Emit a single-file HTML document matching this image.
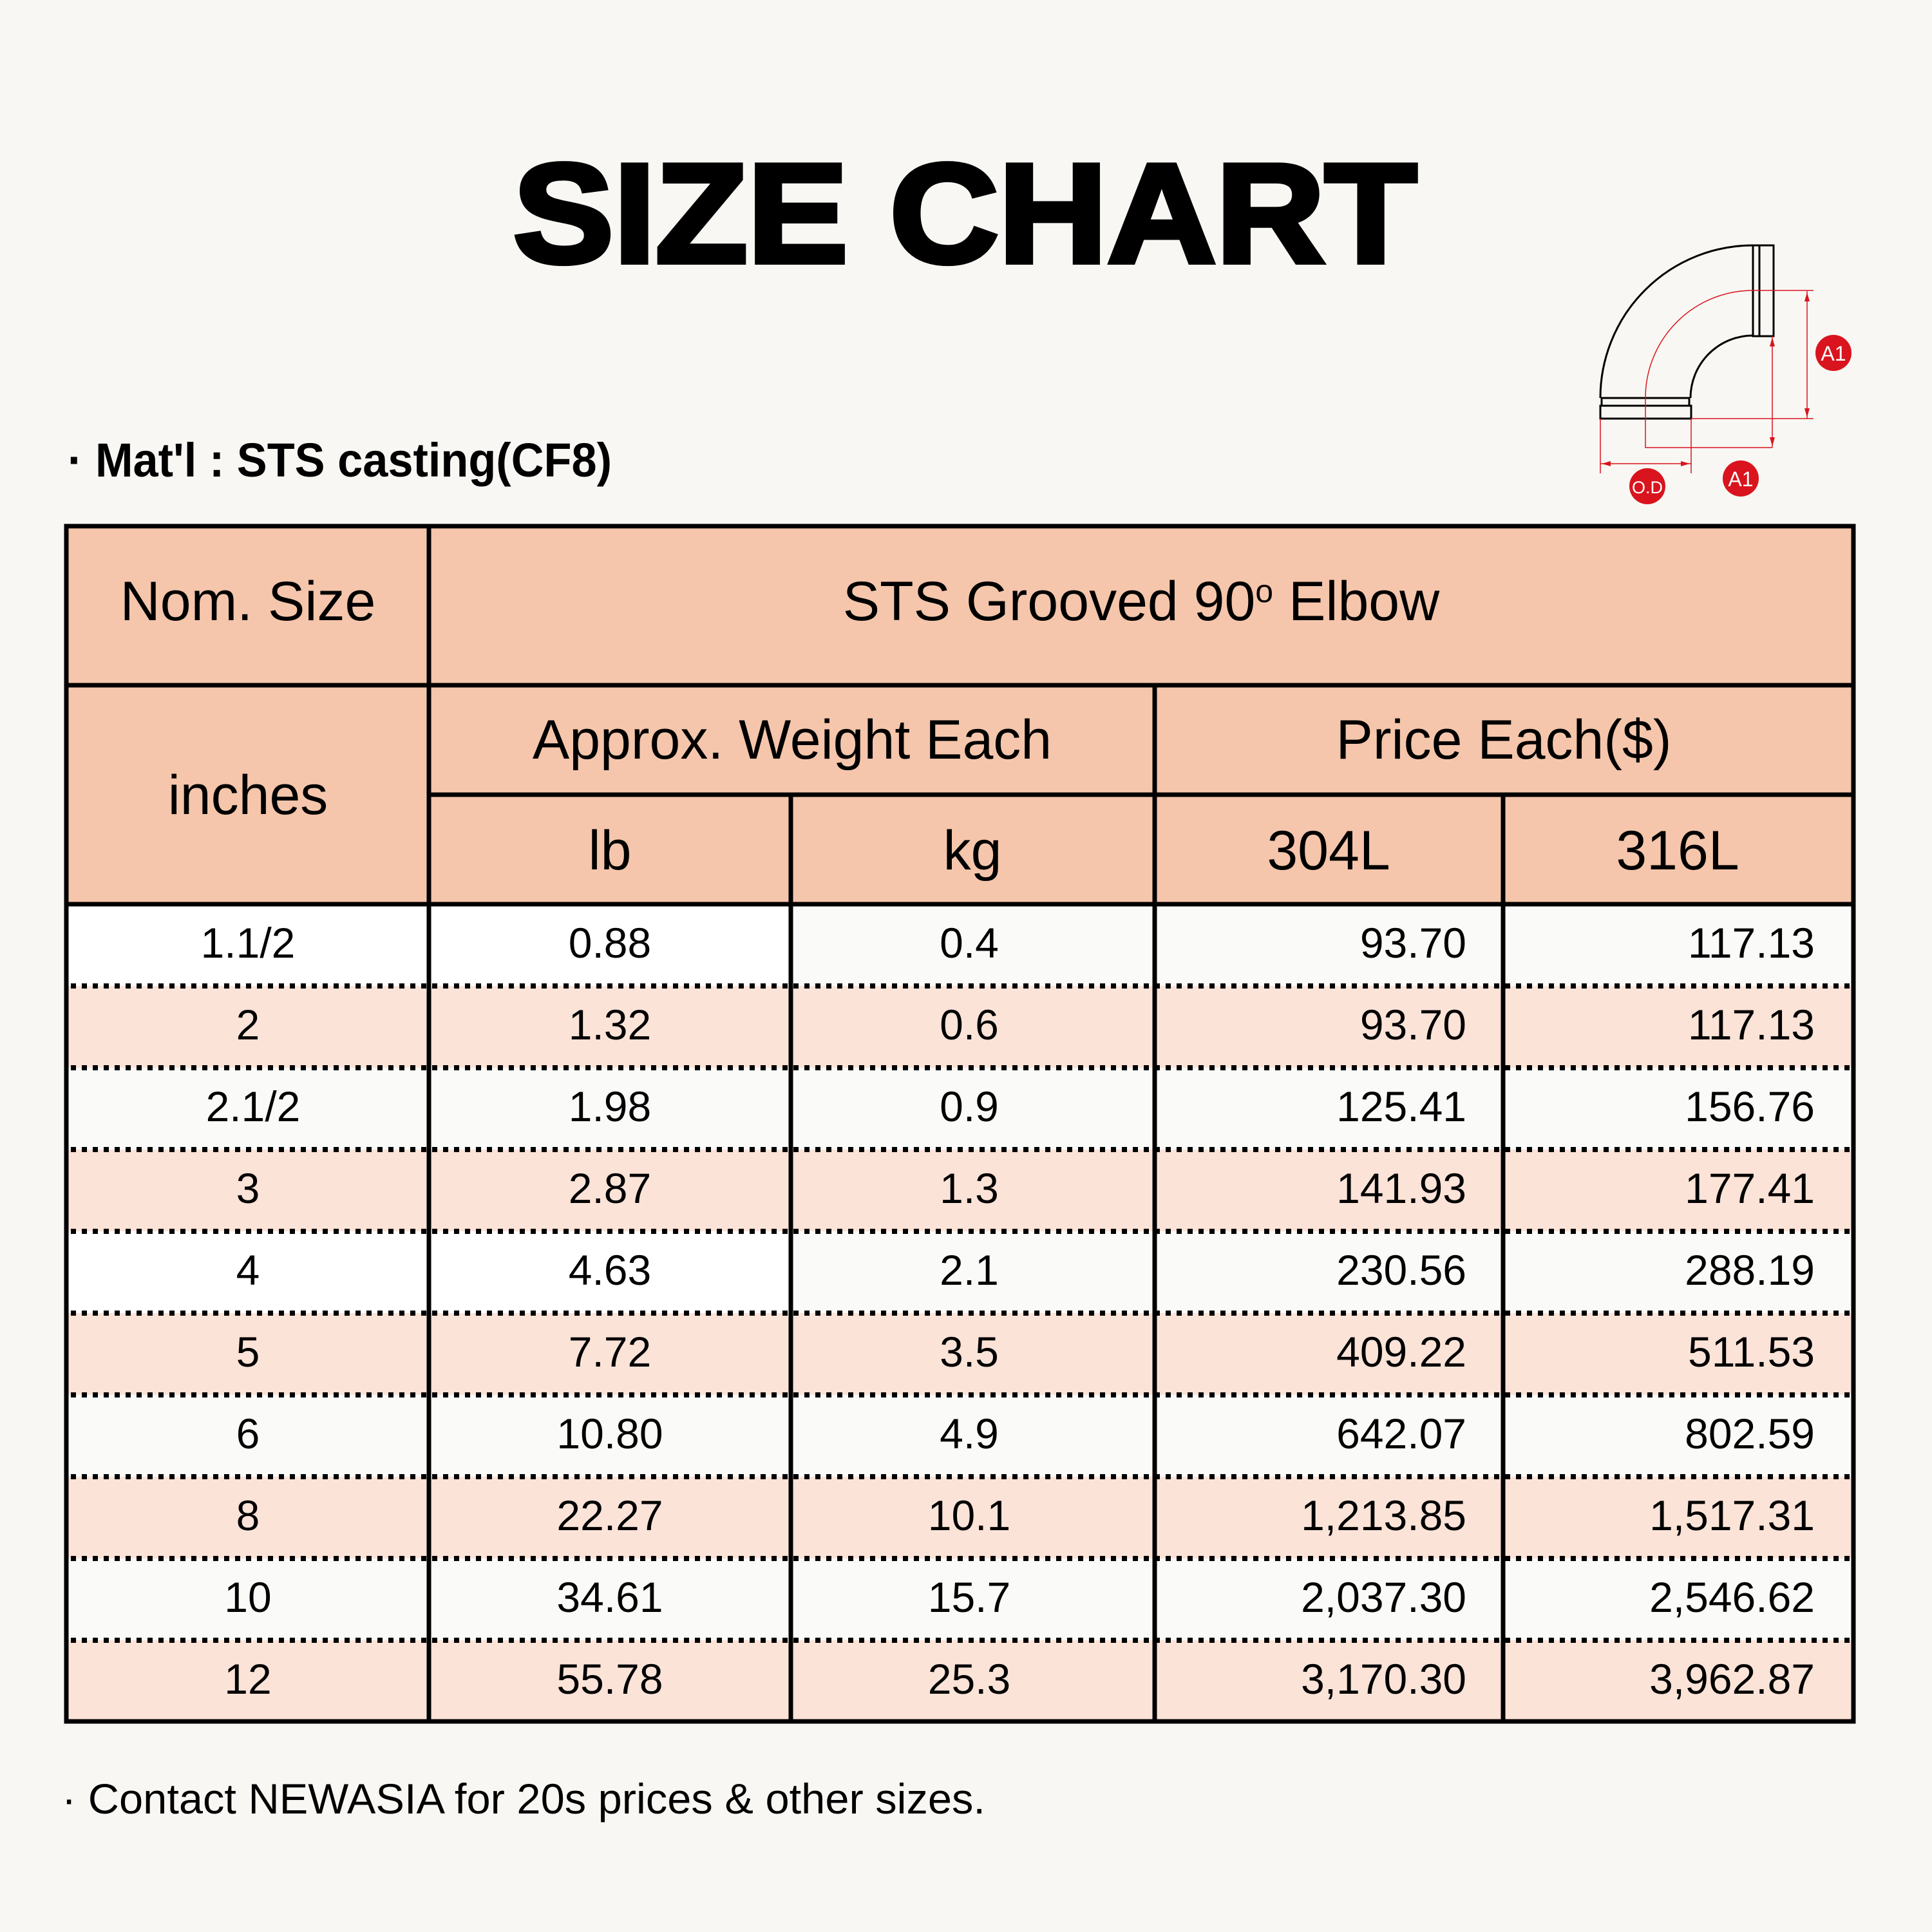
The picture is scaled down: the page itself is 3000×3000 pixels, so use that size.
<!DOCTYPE html>
<html><head><meta charset="utf-8"><style>
html,body{margin:0;padding:0;background:#f8f7f3;}
svg{display:block;}
text{font-family:"Liberation Sans",Arial,sans-serif;fill:#000;}
</style></head><body>
<svg width="3000" height="3000" viewBox="0 0 3000 3000" xmlns="http://www.w3.org/2000/svg">
<rect width="3000" height="3000" fill="#f8f7f3"/>
<text x="797" y="407" font-size="219" font-weight="bold" stroke="#000" stroke-width="8" textLength="1403" lengthAdjust="spacingAndGlyphs">SIZE CHART</text>
<text x="105" y="740" font-size="74" font-weight="bold" textLength="845" lengthAdjust="spacingAndGlyphs">· Mat'l : STS casting(CF8)</text>

<g fill="none" stroke="#000" stroke-width="3">
<path d="M2485 618 A237 237 0 0 1 2722 381"/>
<path d="M2625 618 A97 97 0 0 1 2722 521"/>
<rect x="2722" y="381" width="10" height="141"/>
<rect x="2732" y="381" width="22" height="141"/>
<rect x="2487" y="618" width="136" height="12"/>
<rect x="2485" y="630" width="141" height="20"/>
</g>
<g fill="none" stroke="#d9141e" stroke-width="1.5">
<path d="M2555 618 A167 167 0 0 1 2722 451 L2816 451"/>
<path d="M2555 618 L2555 695 L2752 695"/>
<path d="M2752 522 L2752 695"/>
<path d="M2626 650 L2816 650"/>
<path d="M2806 452 L2806 650"/>
<path d="M2485 650 L2485 735 M2626 650 L2626 735 M2485 720 L2626 720"/>
</g>
<g fill="#d9141e">
<path d="M2752 524 l-4 14 h8z M2752 693 l-4 -14 h8z M2806 454 l-4 14 h8z M2806 648 l-4 -14 h8z M2487 720 l14 -4 v8z M2624 720 l-14 -4 v8z"/>
<circle cx="2847" cy="548" r="28"/><circle cx="2703" cy="743" r="28"/><circle cx="2558" cy="755" r="28"/>
</g>
<g fill="#fff" font-size="32" text-anchor="middle">
<text x="2847" y="560" style="fill:#fff">A1</text>
<text x="2703" y="755" style="fill:#fff">A1</text>
<text x="2558" y="766" font-size="27" style="fill:#fff">O.D</text>
</g>

<rect x="103" y="817" width="2775" height="587" fill="#f5c6ac"/>
<g fill="#fbe3d8">
<rect x="103" y="1531" width="2775" height="127"/>
<rect x="103" y="1785" width="2775" height="127"/>
<rect x="103" y="2039" width="2775" height="127"/>
<rect x="103" y="2293" width="2775" height="127"/>
<rect x="103" y="2547" width="2775" height="127"/>
</g>
<g fill="#fafaf8">
<rect x="103" y="1404" width="2775" height="127"/>
<rect x="103" y="1658" width="2775" height="127"/>
<rect x="103" y="1912" width="2775" height="127"/>
<rect x="103" y="2166" width="2775" height="127"/>
<rect x="103" y="2420" width="2775" height="127"/>
</g>
<rect x="103" y="1404" width="1125" height="127" fill="#fff"/>
<rect x="103" y="1912" width="1125" height="127" fill="#fff"/>

<g stroke="#000" stroke-width="8" stroke-dasharray="8 9">
<path d="M110 1531H2874 M110 1658H2874 M110 1785H2874 M110 1912H2874 M110 2039H2874 M110 2166H2874 M110 2293H2874 M110 2420H2874 M110 2547H2874"/>
</g>
<g stroke="#000" stroke-width="7" fill="none">
<rect x="103" y="817" width="2775" height="1856"/>
<path d="M666 817V2673 M1228 1234V2673 M1793 1064V2673 M2334 1234V2673"/>
<path d="M103 1064H2878 M666 1234H2878 M103 1404H2878"/>
</g>

<g font-size="86" text-anchor="middle">
<text x="385" y="963">Nom. Size</text>
<text x="1772" y="963">STS Grooved 90<tspan font-size="50" dy="-28">o</tspan><tspan dy="28"> Elbow</tspan></text>
<text x="385" y="1264">inches</text>
<text x="1230" y="1178">Approx. Weight Each</text>
<text x="2335" y="1178">Price Each($)</text>
<text x="947" y="1350">lb</text>
<text x="1510" y="1350">kg</text>
<text x="2063" y="1350">304L</text>
<text x="2605" y="1350">316L</text>
</g>

<g font-size="66" transform="translate(0,-4)">
<g text-anchor="middle">
<text x="385" y="1491">1.1/2</text><text x="947" y="1491">0.88</text><text x="1505" y="1491">0.4</text>
<text x="385" y="1618">2</text><text x="947" y="1618">1.32</text><text x="1505" y="1618">0.6</text>
<text x="393" y="1745">2.1/2</text><text x="947" y="1745">1.98</text><text x="1505" y="1745">0.9</text>
<text x="385" y="1872">3</text><text x="947" y="1872">2.87</text><text x="1505" y="1872">1.3</text>
<text x="385" y="1999">4</text><text x="947" y="1999">4.63</text><text x="1505" y="1999">2.1</text>
<text x="385" y="2126">5</text><text x="947" y="2126">7.72</text><text x="1505" y="2126">3.5</text>
<text x="385" y="2253">6</text><text x="947" y="2253">10.80</text><text x="1505" y="2253">4.9</text>
<text x="385" y="2380">8</text><text x="947" y="2380">22.27</text><text x="1505" y="2380">10.1</text>
<text x="385" y="2507">10</text><text x="947" y="2507">34.61</text><text x="1505" y="2507">15.7</text>
<text x="385" y="2634">12</text><text x="947" y="2634">55.78</text><text x="1505" y="2634">25.3</text>
</g>
<g text-anchor="end">
<text x="2277" y="1491">93.70</text><text x="2818" y="1491">117.13</text>
<text x="2277" y="1618">93.70</text><text x="2818" y="1618">117.13</text>
<text x="2277" y="1745">125.41</text><text x="2818" y="1745">156.76</text>
<text x="2277" y="1872">141.93</text><text x="2818" y="1872">177.41</text>
<text x="2277" y="1999">230.56</text><text x="2818" y="1999">288.19</text>
<text x="2277" y="2126">409.22</text><text x="2818" y="2126">511.53</text>
<text x="2277" y="2253">642.07</text><text x="2818" y="2253">802.59</text>
<text x="2277" y="2380">1,213.85</text><text x="2818" y="2380">1,517.31</text>
<text x="2277" y="2507">2,037.30</text><text x="2818" y="2507">2,546.62</text>
<text x="2277" y="2634">3,170.30</text><text x="2818" y="2634">3,962.87</text>
</g>
</g>

<text x="96" y="2816" font-size="66" textLength="1434" lengthAdjust="spacingAndGlyphs">· Contact NEWASIA for 20s prices &amp; other sizes.</text>
</svg>
</body></html>
